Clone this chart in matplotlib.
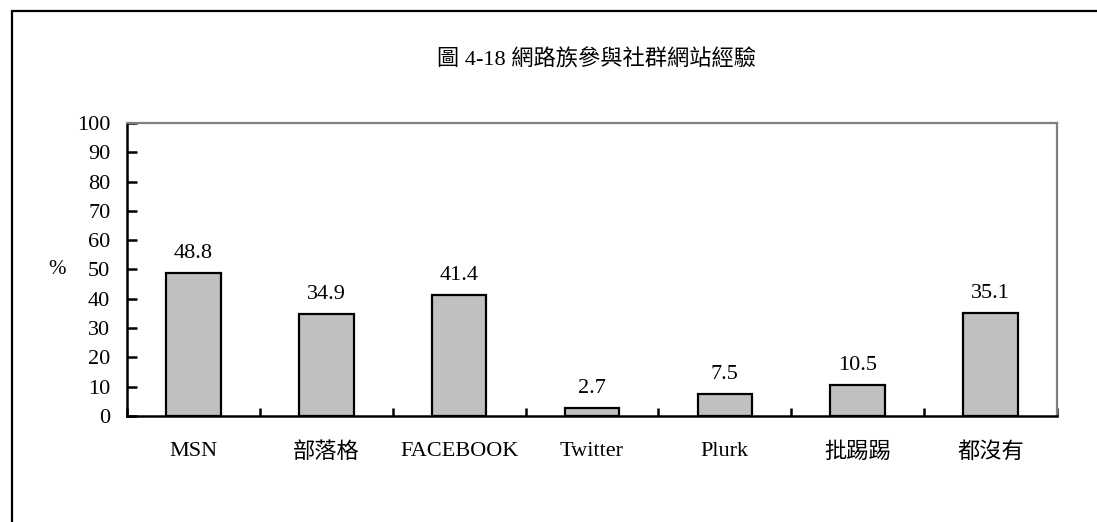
import matplotlib
matplotlib.use('Agg')
import matplotlib.pyplot as plt
from matplotlib.patches import Rectangle
import numpy as np

# 資料
categories = ['MSN', '部落格', 'FACEBOOK', 'Twitter', 'Plurk', '批踢踢', '都沒有']
values = [48.8, 34.9, 41.4, 2.7, 7.5, 10.5, 35.1]
yticks = list(range(0, 101, 10))
title = '圖 4-18 網路族參與社群網站經驗'

plt.rcParams['font.family'] = ['Liberation Serif', 'Noto Sans CJK TC', 'DejaVu Sans']
plt.rcParams['axes.unicode_minus'] = False

fig = plt.figure(figsize=(10.97, 5.22), dpi=100)
ax = fig.add_axes([0.1158, 0.2031, 0.8477, 0.5613])

x = np.arange(len(categories))
ax.bar(x, values, width=0.41, color='#c0c0c0', edgecolor='black', linewidth=1.6, zorder=3)

for xi, v in zip(x, values):
    ax.annotate(f'{v:.1f}', (xi, v), xytext=(0, 7), textcoords='offset points',
                ha='center', va='bottom', fontsize=16)

ax.set_xlim(-0.5, len(categories) - 0.5)
ax.set_ylim(0, 100)
ax.set_yticks(yticks)
ax.set_yticklabels([str(t) for t in yticks], fontsize=16)
ax.set_xticks(x)
ax.set_xticklabels(categories, fontsize=16)
ax.set_xticks(np.arange(len(categories) + 1) - 0.5, minor=True)

ax.tick_params(axis='y', direction='in', length=7, width=1.8, pad=12)
ax.tick_params(axis='x', which='major', length=0, pad=19)
ax.tick_params(axis='x', which='minor', direction='in', length=6, width=1.8)

for s in ['left', 'bottom']:
    ax.spines[s].set_color('black')
    ax.spines[s].set_linewidth(1.8)
for s in ['top', 'right']:
    ax.spines[s].set_color('#808080')
    ax.spines[s].set_linewidth(1.6)

ax.text(-0.075, 50, '%', transform=ax.get_yaxis_transform(), ha='center', va='center', fontsize=15)

fig.text(0.544, 0.885, title, ha='center', va='center', fontsize=16)

# 外框
fig.patches.append(Rectangle((0.0105, -0.1), 1.2, 1.079,
                             transform=fig.transFigure, fill=False, edgecolor='black', linewidth=1.6))

fig.savefig('out.png', dpi=100)
